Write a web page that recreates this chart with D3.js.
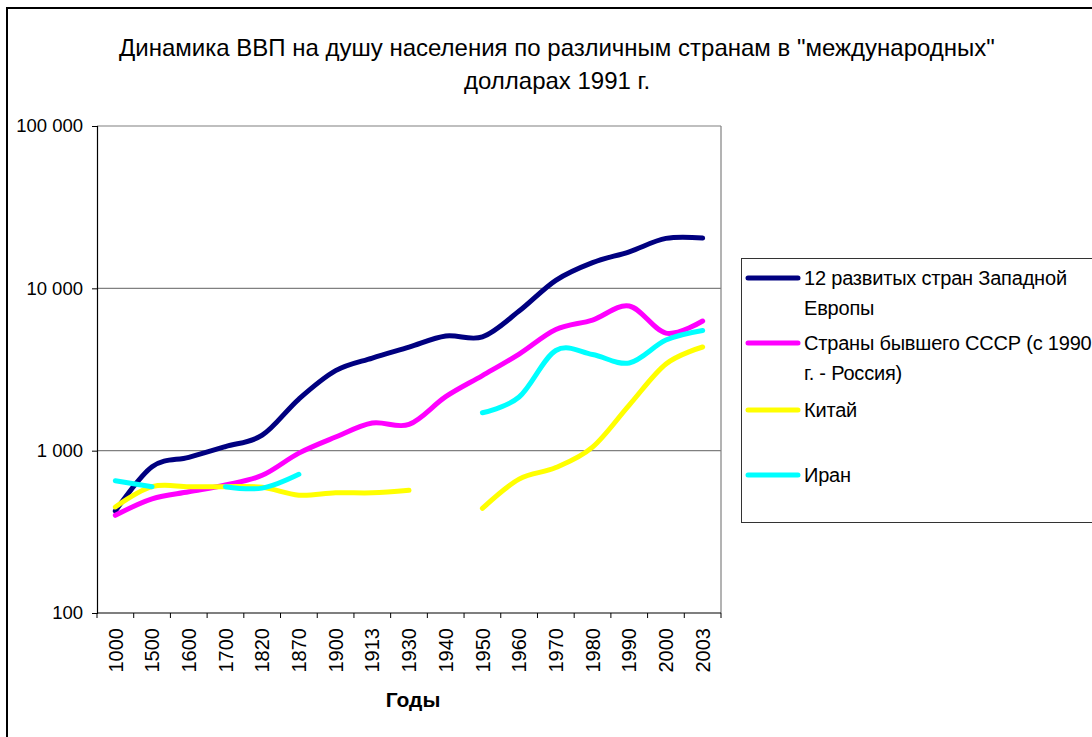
<!DOCTYPE html>
<html>
<head>
<meta charset="utf-8">
<style>
  body { margin: 0; background: #fff; }
  svg { display: block; font-family: 'Liberation Sans', Arial, sans-serif; }
</style>
</head>
<body>
<svg width="1092" height="737"></svg>

<script src="https://d3js.org/d3.v7.min.js"></script>
<script>
    // categories (years) and GDP per capita, 1990 international $
    let years = ["1000", "1500", "1600", "1700", "1820", "1870", "1900", "1913", "1930",
                 "1940", "1950", "1960", "1970", "1980", "1990", "2000", "2003"]

    let westEurope = [425, 795, 910, 1060, 1245, 2080, 3110, 3720, 4340,
                      5080, 5020, 7240, 11200, 14400, 16800, 20300, 20400]
    let ussr = [400, 505, 558, 615, 705, 966, 1213, 1480, 1450,
                2150, 2900, 3935, 5575, 6380, 7780, 5300, 6290]
    let china = [450, 600, 600, 600, 595, 532, 550, 550, 570,
                 null, 441, 668, 787, 1052, 1910, 3420, 4350]
    let iran = [653, 600, null, 600, 588, 715, null, null, null,
                null, 1712, 2140, 4140, 3910, 3470, 4800, 5500]

    let seriesNames = [
        ["12 развитых стран Западной", "Европы"],
        ["Страны бывшего СССР (с 1990", "г. - Россия)"],
        ["Китай"],
        ["Иран"]
    ]
    let seriesColors = ["#000080", "#ff00ff", "#ffff00", "#00ffff"]
    let seriesValues = [westEurope, ussr, china, iran]

    let yTicks = [100, 1000, 10000, 100000]

    let svg = d3.select("svg")

    // outer chart border
    svg.append("rect")
        .attr("x", 7).attr("y", 8)
        .attr("width", 1100).attr("height", 740)
        .attr("fill", "white")
        .attr("stroke", "black")
        .attr("stroke-width", 2)

    let plotLeft = 97, plotRight = 721, plotTop = 126, plotBottom = 613

    let x = d3.scaleBand().domain(years).range([plotLeft, plotRight]).padding(0)
    let y = d3.scaleLog().domain([100, 100000]).range([plotBottom, plotTop])

    let fmt = d3.formatLocale({ decimal: ",", thousands: " ", grouping: [3], currency: ["", ""] }).format(",")

    // gridlines
    svg.selectAll(".grid")
        .data(yTicks.slice(1))
        .join("line")
        .attr("x1", plotLeft).attr("x2", plotRight)
        .attr("y1", d => y(d)).attr("y2", d => y(d))
        .attr("stroke", "#808080")
        .attr("stroke-width", 1.2)

    // plot right border
    svg.append("line")
        .attr("x1", plotRight).attr("x2", plotRight)
        .attr("y1", plotTop).attr("y2", plotBottom)
        .attr("stroke", "#808080").attr("stroke-width", 1.2)

    // y axis
    let yAxis = d3.axisLeft(y).tickValues(yTicks).tickFormat(fmt).tickSize(5).tickPadding(9)
    let yg = svg.append("g").attr("transform", `translate(${plotLeft},0)`).call(yAxis)
    yg.select(".domain").attr("stroke", "black").attr("stroke-width", 1.2)
    yg.selectAll(".tick line").attr("stroke", "black")
    yg.selectAll(".tick text")
        .attr("font-size", 18.5)
        .attr("font-family", "'Liberation Sans', Arial, sans-serif")
        .attr("fill", "black")

    // x axis: ticks at category boundaries
    let xg = svg.append("g")
    xg.append("line")
        .attr("x1", plotLeft).attr("x2", plotRight)
        .attr("y1", plotBottom).attr("y2", plotBottom)
        .attr("stroke", "black").attr("stroke-width", 1.2)
    xg.selectAll(".xtick")
        .data(years.concat(["end"]))
        .join("line")
        .attr("x1", (d, i) => plotLeft + i * x.bandwidth())
        .attr("x2", (d, i) => plotLeft + i * x.bandwidth())
        .attr("y1", plotBottom).attr("y2", plotBottom + 5)
        .attr("stroke", "black")
    xg.selectAll(".xlabel")
        .data(years)
        .join("text")
        .attr("transform", d => `translate(${x(d) + x.bandwidth() / 2},${plotBottom + 15}) rotate(-90)`)
        .attr("text-anchor", "end")
        .attr("dy", "0.36em")
        .attr("font-size", 20)
        .text(d => d)

    svg.append("text")
        .attr("x", 413).attr("y", 707)
        .attr("text-anchor", "middle")
        .attr("font-size", 21)
        .attr("font-weight", "bold")
        .text("Годы")

    // lines
    let line = d3.line()
        .defined(d => d != null)
        .x((d, i) => x(years[i]) + x.bandwidth() / 2)
        .y(d => y(d))
        .curve(d3.curveCatmullRom.alpha(0))

    svg.selectAll(".series")
        .data(seriesValues)
        .join("path")
        .attr("d", d => line(d))
        .attr("fill", "none")
        .attr("stroke", (d, i) => seriesColors[i])
        .attr("stroke-width", 5)
        .attr("stroke-linecap", "round")
        .attr("stroke-linejoin", "round")

    // title
    let title = svg.append("text")
        .attr("text-anchor", "middle")
        .attr("font-size", 24)
    title.append("tspan").attr("x", 557).attr("y", 56)
        .text('Динамика ВВП на душу населения по различным странам в "международных"')
    title.append("tspan").attr("x", 557).attr("y", 89)
        .text("долларах 1991 г.")

    // legend
    let legend = svg.append("g")
    legend.append("rect")
        .attr("x", 741.5).attr("y", 258.5)
        .attr("width", 400).attr("height", 264)
        .attr("fill", "white")
        .attr("stroke", "#333").attr("stroke-width", 1)

    let legendY = [278, 343, 410, 475]
    let items = legend.selectAll(".item")
        .data(seriesNames)
        .join("g")
        .attr("transform", (d, i) => `translate(0,${legendY[i]})`)
    items.append("line")
        .attr("x1", 748).attr("x2", 798)
        .attr("stroke", (d, i) => seriesColors[i])
        .attr("stroke-width", 5)
        .attr("stroke-linecap", "round")
    items.append("text")
        .attr("font-size", 20)
        .attr("letter-spacing", -0.2)
        .selectAll("tspan")
        .data(d => d)
        .join("tspan")
        .attr("x", 804)
        .attr("y", (d, i) => i * 30)
        .attr("dy", "0.36em")
        .text(d => d)
</script>
</body>
</html>
